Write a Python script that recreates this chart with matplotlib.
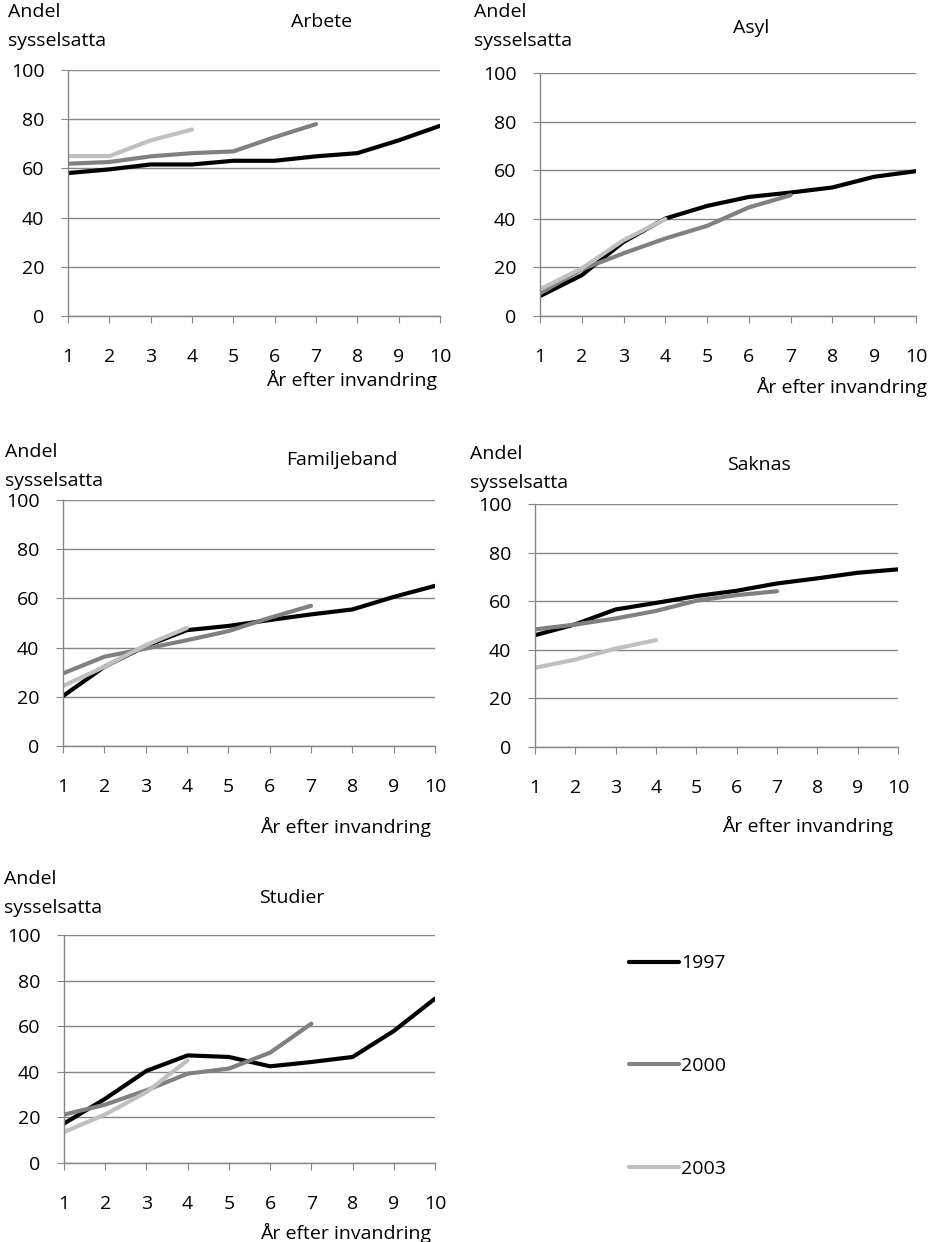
import numpy as np
import matplotlib.pyplot as plt

plt.rcParams['font.family'] = ['Open Sans', 'DejaVu Sans']

years = list(range(1, 11))
cohorts = ['1997', '2000', '2003']
colors = {'1997': '#000000', '2000': '#808080', '2003': '#c0c0c0'}

arbete_1997 = [58.1, 59.6, 61.6, 61.6, 63.1, 63.1, 64.9, 66.2, 71.4, 77.3]
arbete_2000 = [61.9, 62.6, 64.9, 66.2, 66.9, 72.7, 78.0]
arbete_2003 = [65.0, 65.0, 71.4, 75.8]

asyl_1997 = [8.2, 16.8, 30.5, 40.1, 45.3, 49.0, 50.8, 52.9, 57.3, 59.6]
asyl_2000 = [9.3, 19.2, 25.8, 31.9, 37.1, 44.7, 49.7]
asyl_2003 = [11.0, 19.6, 31.2, 39.9]

familj_1997 = [20.3, 32.2, 40.6, 47.1, 48.8, 51.2, 53.5, 55.5, 60.6, 65.1]
familj_2000 = [29.5, 36.3, 39.6, 43.0, 46.7, 52.1, 57.0]
familj_2003 = [24.4, 32.2, 41.0, 48.0]

saknas_1997 = [46.0, 50.5, 56.6, 59.3, 62.1, 64.3, 67.3, 69.4, 71.7, 73.1]
saknas_2000 = [48.4, 50.4, 52.9, 56.0, 60.2, 62.5, 64.1]
saknas_2003 = [32.6, 36.0, 40.5, 44.0]

studier_1997 = [17.3, 28.2, 40.4, 47.2, 46.5, 42.4, 44.3, 46.5, 57.9, 72.1]
studier_2000 = [21.2, 25.6, 31.9, 39.2, 41.4, 48.4, 61.1]
studier_2003 = [13.6, 21.3, 31.1, 45.0]

W, H = 932, 1242
GRID = '#868686'
FS = 14

# panel boxes in pixels: left, right, top, bottom
panels = [
    ('Arbete', [arbete_1997, arbete_2000, arbete_2003], (68, 440, 70, 316),
     (322, 22), (8, 12), (437, 380)),
    ('Asyl', [asyl_1997, asyl_2000, asyl_2003], (540, 916, 73, 316),
     (751, 28), (474, 12), (927, 387)),
    ('Familjeband', [familj_1997, familj_2000, familj_2003], (63, 435, 500, 746),
     (342, 460), (5, 452), (431, 827)),
    ('Saknas', [saknas_1997, saknas_2000, saknas_2003], (535, 898, 504, 747),
     (759, 465), (470, 454), (893, 826)),
    ('Studier', [studier_1997, studier_2000, studier_2003], (64, 435, 935, 1163),
     (292, 898), (4, 879), (431, 1233)),
]

fig = plt.figure(figsize=(W / 100, H / 100), dpi=100)


def fx(px):
    return px / W


def fy(py):
    return 1 - py / H


handles = []
for title, series, (l, r, t, b), tpos, ypos, xpos in panels:
    ax = fig.add_axes([fx(l), fy(b), fx(r - l), (b - t) / H])
    for name, vals in zip(cohorts, series):
        ln, = ax.plot(years[:len(vals)], vals, color=colors[name], lw=3.0,
                      solid_capstyle='round', solid_joinstyle='round')
        if title == 'Studier':
            handles.append(ln)
    ax.set_xlim(1, 10)
    ax.set_ylim(0, 100)
    ax.set_xticks(years)
    ax.set_yticks(range(0, 101, 20))
    ax.yaxis.grid(True, color=GRID, lw=1)
    ax.set_axisbelow(True)
    for s in ['top', 'right']:
        ax.spines[s].set_visible(False)
    for s in ['left', 'bottom']:
        ax.spines[s].set_color(GRID)
        ax.spines[s].set_linewidth(1)
    ax.tick_params(axis='x', length=5, color=GRID, pad=18, labelsize=FS)
    ax.tick_params(axis='y', length=5, color=GRID, pad=12, labelsize=FS)
    fig.text(fx(tpos[0]), fy(tpos[1]), title, ha='center', va='center', fontsize=FS)
    fig.text(fx(ypos[0]), fy(ypos[1]), 'Andel', ha='left', va='center', fontsize=FS)
    fig.text(fx(ypos[0]), fy(ypos[1] + 29), 'sysselsatta', ha='left', va='center', fontsize=FS)
    fig.text(fx(xpos[0]), fy(xpos[1]), 'År efter invandring', ha='right', va='center', fontsize=FS)

fig.legend(handles, cohorts, loc='upper left', bbox_to_anchor=(fx(611), fy(937)),
           frameon=False, fontsize=FS, handlelength=2.6, handletextpad=0.1,
           labelspacing=4.35)

fig.savefig('out.png', dpi=100)
